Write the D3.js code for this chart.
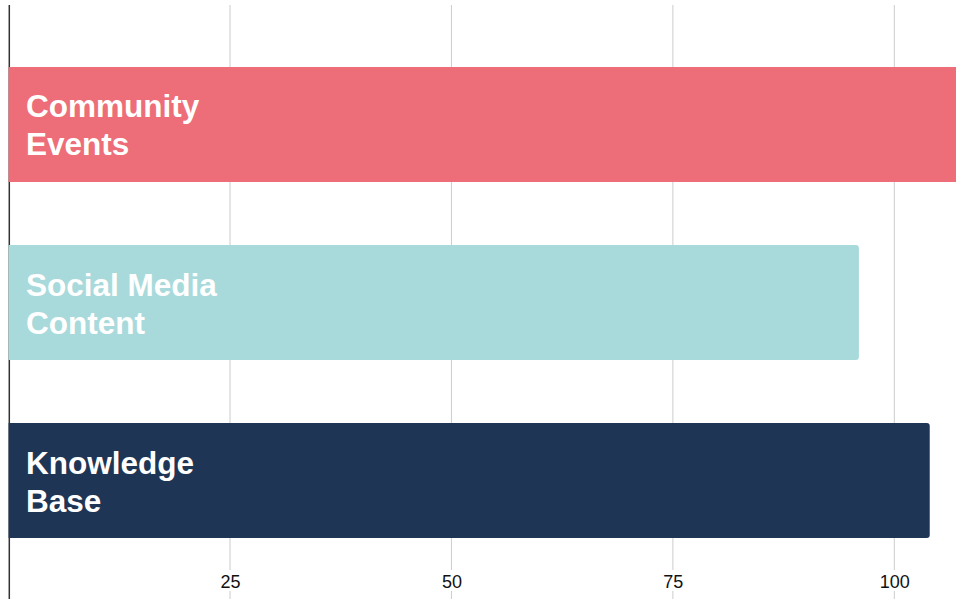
<!DOCTYPE html>
<html>
<head>
<meta charset="utf-8">
<script src="https://cdn.jsdelivr.net/npm/d3@7"></script>
<style>
  html, body { margin: 0; padding: 0; background: #fff; }
  svg { display: block; font-family: "Liberation Sans", Arial, sans-serif; }
</style>
</head>
<body>
<div id="graph"></div>
<script>
const WIDTH = 956, HEIGHT = 599;

// data
const categories = ["Community Events", "Social Media Content", "Knowledge Base"];
const values = [110, 96, 104];
const colors = ["#ed6d78", "#a8dadc", "#1e3556"];
const tickValues = [25, 50, 75, 100];

let svg = d3.select("#graph")
    .append("svg")
    .attr("width", WIDTH)
    .attr("height", HEIGHT);

let x = d3.scaleLinear()
    .domain([0, 100])
    .range([8.6, 894.3]);

let y = d3.scaleBand()
    .domain(categories)
    .range([5, 600])
    .paddingInner(0.354)
    .paddingOuter(0.348);

// gridlines
svg.append("g")
    .selectAll("line")
    .data(tickValues)
    .enter().append("line")
    .attr("x1", d => x(d)).attr("x2", d => x(d))
    .attr("y1", 5).attr("y2", HEIGHT)
    .attr("stroke", "#cccccc")
    .attr("stroke-width", 1);

// left axis line
svg.append("line")
    .attr("x1", 9.3).attr("x2", 9.3)
    .attr("y1", 5).attr("y2", HEIGHT)
    .attr("stroke", "#333")
    .attr("stroke-width", 1.5);

// bottom tick labels (white box behind, cuts the gridline)
let xAxis = svg.append("g")
    .attr("transform", `translate(0, ${570})`)
    .call(d3.axisBottom(x).tickValues(tickValues).tickSize(0).tickPadding(5));
xAxis.select(".domain").remove();
xAxis.selectAll(".tick").insert("rect", "text")
    .attr("x", -18).attr("width", 36)
    .attr("y", 0).attr("height", 21)
    .attr("fill", "#fff");
xAxis.selectAll("text")
    .style("font-size", "18px")
    .style("font-family", "'Liberation Sans', Arial, sans-serif")
    .attr("fill", "#111");

// bar with rounded right corners
function barPath(x0, y0, w, h, r) {
    return `M${x0},${y0}H${x0 + w - r}Q${x0 + w},${y0} ${x0 + w},${y0 + r}` +
        `V${y0 + h - r}Q${x0 + w},${y0 + h} ${x0 + w - r},${y0 + h}H${x0}Z`;
}

let rows = categories.map((c, i) => ({name: c, value: values[i], color: colors[i]}));

let bars = svg.append("g")
    .selectAll("g")
    .data(rows)
    .enter().append("g");

bars.append("path")
    .attr("d", d => barPath(x(0), y(d.name), x(d.value) - x(0), y.bandwidth(), 3))
    .attr("fill", d => d.color);

// wrap label into lines no wider than maxW
function wrapWords(text, maxW) {
    let words = text.split(" "), lines = [], cur = "";
    let probe = svg.append("text").style("font-size", "31.5px").style("font-weight", "bold");
    words.forEach(w => {
        let t = cur ? cur + " " + w : w;
        probe.text(t);
        if (probe.node().getComputedTextLength() > maxW && cur) {
            lines.push(cur);
            cur = w;
        } else {
            cur = t;
        }
    });
    lines.push(cur);
    probe.remove();
    return lines;
}

const lineHeight = 38;
bars.each(function(d) {
    let lines = wrapWords(d.name, 215);
    let cy = y(d.name) + y.bandwidth() / 2 + 1;
    let t = d3.select(this).append("text")
        .attr("x", 26)
        .attr("fill", "#fff")
        .style("font-size", "31.5px")
        .style("font-weight", "bold");
    lines.forEach((ln, i) => {
        t.append("tspan")
            .attr("x", 26)
            .attr("y", cy + (i - (lines.length - 1) / 2) * lineHeight)
            .attr("dy", "0.35em")
            .text(ln);
    });
});
</script>
</body>
</html>
